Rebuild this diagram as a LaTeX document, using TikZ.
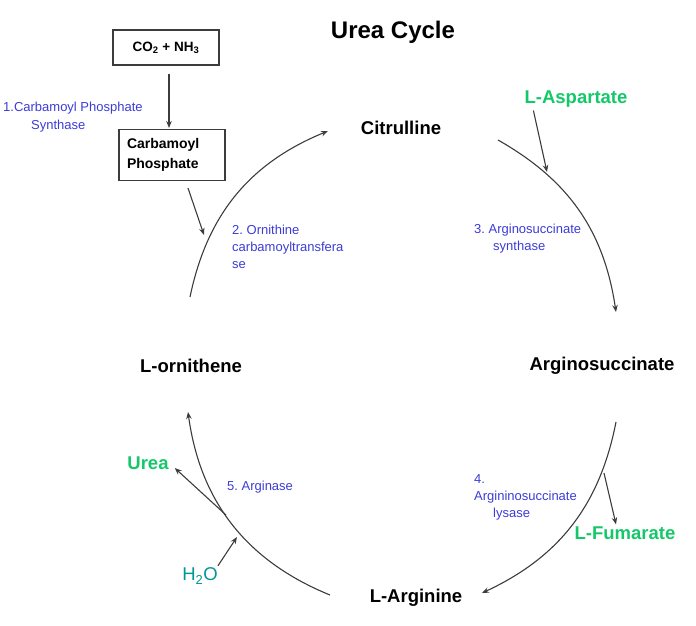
\documentclass[tikz,border=0pt]{standalone}
\usepackage{fontspec}
\setmainfont{Liberation Sans}
\usetikzlibrary{arrows.meta}
\frenchspacing
\definecolor{enzblue}{RGB}{60,60,215}
\definecolor{subgreen}{RGB}{20,200,105}
\definecolor{waterteal}{RGB}{0,150,150}
\definecolor{linegray}{RGB}{60,60,60}
\tikzstyle{metab}=[inner sep=0pt,font=\bfseries\fontsize{18.5}{20}\selectfont]
\tikzstyle{side}=[metab,text=subgreen]
\tikzstyle{enz}=[inner sep=0pt,align=left,text=enzblue,font=\fontsize{13}{17}\selectfont]
\tikzstyle{box}=[draw=linegray,line width=1.1pt,align=left,font=\bfseries\fontsize{14}{20}\selectfont]
\tikzstyle{arr}=[draw=linegray,line width=1.1pt,-{Stealth[length=7pt,width=5.5pt]}]

\begin{document}
\begin{tikzpicture}[x=1pt,y=-1pt]
        \useasboundingbox (0,0) rectangle (696,625);
        \node[inner sep=0pt,font=\bfseries\fontsize{24}{26}\selectfont] (title) at (393,32) {Urea Cycle};
        % starting boxes
        \node[box,minimum width=106pt,minimum height=35pt,align=center,font=\bfseries\fontsize{13.5}{15}\selectfont] (co2) at (166,47.5) {CO\textsubscript{2} + NH\textsubscript{3}};
        \node[box,inner xsep=8pt,text width=90pt,minimum height=51pt] (carb) at (172,155) {Carbamoyl\\Phosphate};
        % the cycle
        \node[metab] (citr) at (401,128) {Citrulline};
        \node[metab] (argsuc) at (602,366) {Arginosuccinate};
        \node[metab] (arg) at (416,598) {L-Arginine};
        \node[metab] (orn) at (191,366) {L-ornithene};
        \node[side] (asp) at (576,99) {L-Aspartate};
        \node[side] (fum) at (625,533) {L-Fumarate};
        \node[side] (urea) at (148,463) {Urea};
        \node[inner sep=0pt,text=waterteal,font=\fontsize{18.5}{20}\selectfont] (h2o) at (200,576) {H\textsubscript{2}O};
        % enzymes
        \node[enz,anchor=west,font=\fontsize{13}{18}\selectfont] (enz1) at (3,117) {1.Carbamoyl Phosphate\\\hspace{28pt}Synthase};
        \node[enz,anchor=west] (enz2) at (232,247) {2. Ornithine\\carbamoyltransfera\\se};
        \node[enz,anchor=west] (enz3) at (474,238.5) {3. Arginosuccinate\\\hspace{19pt}synthase};
        \node[enz,anchor=west] (enz4) at (474,497) {4.\\Argininosuccinate\\\hspace{19pt}lysase};
        \node[enz,anchor=west] (enz5) at (227,487) {5. Arginase};
        % arc ends
        \coordinate (c1a) at (190,297);
        \coordinate (c1b) at (328,131);
        \coordinate (c2a) at (498,140);
        \coordinate (c2b) at (616,312);
        \coordinate (c3a) at (616,422);
        \coordinate (c3b) at (482,593);
        \coordinate (c4a) at (330,595);
        \coordinate (c4b) at (188,412);
        \draw[arr] (c1a) to[bend left=28] (c1b);
        \draw[arr] (c2a) to[bend left=26] (c2b);
        \draw[arr] (c3a) to[bend left=27] (c3b);
        \draw[arr] (c4a) to[bend left=30] (c4b);
        % side arrows
        \coordinate (carbin) at (204,235);
        \coordinate (aspin) at (547,172);
        \coordinate (fumout) at (604,473);
        \coordinate (ureaout) at (226,515);
        \coordinate (h2oin) at (237,537);
        \draw[arr,shorten <=8pt,shorten >=1pt] ([xshift=3pt]co2.south) -- ([xshift=-3pt]carb.north);
        \draw[arr] ([xshift=16pt,yshift=-7pt]carb.south) -- (carbin);
        \draw[arr] ([xshift=9pt,yshift=-3pt]asp.south west) -- (aspin);
        \draw[arr] (fumout) -- ([xshift=-9pt,yshift=2pt]fum.north);
        \draw[arr] (ureaout) -- ([xshift=6pt,yshift=-5pt]urea.east);
        \draw[arr] ([yshift=2pt]h2o.north east) -- (h2oin);
    \end{tikzpicture}
\end{document}
